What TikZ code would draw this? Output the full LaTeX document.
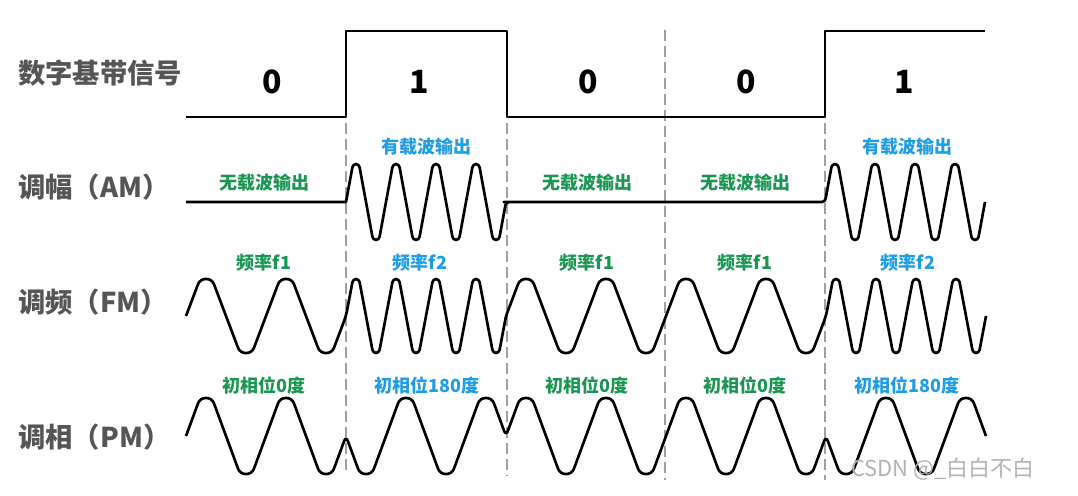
\documentclass[tikz,border=0pt]{standalone}
\usepackage{fontspec}
\setmainfont{Noto Sans CJK SC}
\usetikzlibrary{positioning}
\definecolor{titlegray}{RGB}{85,85,85}
\definecolor{offgreen}{RGB}{26,150,82}
\definecolor{onblue}{RGB}{32,156,228}
\definecolor{gridgray}{RGB}{160,160,160}

\begin{document}
\begin{tikzpicture}[x=0.75pt,y=-0.75pt,
sig/.style={line width=2pt,line join=round},
slot/.style={draw=gridgray,line width=2.1pt,dash pattern=on 8pt off 4pt},
row title/.style={anchor=west,inner sep=0pt,text=titlegray,font=\bfseries\fontsize{20.5}{20.5}\selectfont},
bit digit/.style={inner sep=0pt,font=\bfseries\fontsize{24}{24}\selectfont},
off label/.style={inner sep=0pt,text=offgreen,font=\bfseries\fontsize{13.5}{13.5}\selectfont},
on label/.style={inner sep=0pt,text=onblue,font=\bfseries\fontsize{13.5}{13.5}\selectfont}]
\useasboundingbox (0,0) rectangle (1078,496);

% row titles
\node[row title] (tDig) at (18,73) {数字基带信号};
\node[row title] (tAM) at (18,187) {调幅（AM）};
\node[row title] (tFM) at (18,302) {调频（FM）};
\node[row title] (tPM) at (18,437) {调相（PM）};

% bit values
\node[bit digit] (b1) at (272,82) {0};
\node[bit digit] (b2) at (419,82) {1};
\node[bit digit] (b3) at (588,82) {0};
\node[bit digit] (b4) at (746,82) {0};
\node[bit digit] (b5) at (904,82) {1};

% bit borders
\draw[slot] (346,123) -- (346,472);
\draw[slot] (507,123) -- (507,476);
\draw[slot] (665,30) -- (665,480);
\draw[slot] (825,123) -- (825,480);

% baseband
\draw[sig] (186,117) -- (346,117) -- (346,31) -- (507,31) -- (507,117)
  -- (825,117) -- (825,31) -- (985,31);

% AM
\draw[sig] (186,202) -- (346,202) [rounded corners=2.4pt]
  foreach \k in {1,...,4}{ -- ++(7,-38) -- ++(6,0) -- ++(14,76) -- ++(6,0) -- ++(7,-38) }
  -- (507,202) -- (825,202)
  foreach \k in {1,...,4}{ -- ++(7,-38) -- ++(6,0) -- ++(14,76) -- ++(6,0) -- ++(7,-38) };
\node[off label] (am1) at (264,183) {无载波输出};
\node[on label]  (am2) at (426,147) {有载波输出};
\node[off label] (am3) at (587,183) {无载波输出};
\node[off label] (am4) at (745,183) {无载波输出};
\node[on label]  (am5) at (907,147) {有载波输出};

% FM
\draw[sig] (186,316) [rounded corners=4pt]
  foreach \k in {1,2}{ -- ++(14,-37) -- ++(12,0) -- ++(28,74) -- ++(12,0) -- ++(14,-37) }
  [rounded corners=2.4pt]
  foreach \k in {1,...,4}{ -- ++(7,-37) -- ++(6,0) -- ++(14,74) -- ++(6,0) -- ++(7,-37) }
  [rounded corners=4pt]
  foreach \k in {1,...,4}{ -- ++(14,-37) -- ++(12,0) -- ++(28,74) -- ++(12,0) -- ++(14,-37) }
  [rounded corners=2.4pt]
  foreach \k in {1,...,4}{ -- ++(7,-37) -- ++(6,0) -- ++(14,74) -- ++(6,0) -- ++(7,-37) };
\node[off label] (fm1) at (264,263) {频率f1};
\node[on label]  (fm2) at (420,263) {频率f2};
\node[off label] (fm3) at (587,263) {频率f1};
\node[off label] (fm4) at (745,263) {频率f1};
\node[on label]  (fm5) at (908,263) {频率f2};

% PM
\draw[sig] (186,436) [rounded corners=4pt]
  foreach \k in {1,2}{ -- ++(14,-38) -- ++(12,0) -- ++(28,76) -- ++(12,0) -- ++(14,-38) }
  foreach \k in {1,2}{ -- ++(14,38) -- ++(12,0) -- ++(28,-76) -- ++(12,0) -- ++(14,38) }
  foreach \k in {1,...,4}{ -- ++(14,-38) -- ++(12,0) -- ++(28,76) -- ++(12,0) -- ++(14,-38) }
  foreach \k in {1,2}{ -- ++(14,38) -- ++(12,0) -- ++(28,-76) -- ++(12,0) -- ++(14,38) };
\node[off label] (pm1) at (264,385) {初相位0度};
\node[on label]  (pm2) at (427,385) {初相位180度};
\node[off label] (pm3) at (587,385) {初相位0度};
\node[off label] (pm4) at (745,385) {初相位0度};
\node[on label]  (pm5) at (907,385) {初相位180度};

\node[anchor=west,inner sep=0pt,text=gray!60,font=\fontsize{16.5}{16.5}\selectfont] (mark) at (851,469) {CSDN @\_白白不白};
\end{tikzpicture}
\end{document}
